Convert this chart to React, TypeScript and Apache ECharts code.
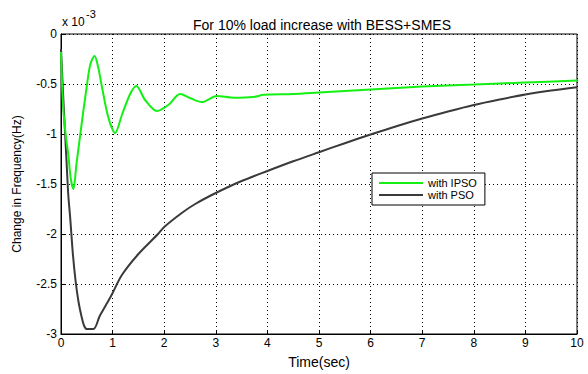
import React, { useEffect, useRef } from "react";
import * as echarts from "echarts";

const titleText = "For 10% load increase with BESS+SMES";
const xAxisName = "Time(sec)";
const yAxisName = "Change in Frequency(Hz)";
const seriesNames = ["with IPSO", "with PSO"];
const yTickLabels = ["-3", "-2.5", "-2", "-1.5", "-1", "-0.5", "0"];

// with IPSO (units of 1e-3 Hz)
const ipsoTime = [0, 0.04, 0.1, 0.14, 0.19, 0.24, 0.3, 0.4, 0.5, 0.57, 0.65, 0.72, 0.79, 0.92, 1.05, 1.18, 1.34, 1.46, 1.63, 1.86, 2.08, 2.31, 2.5, 2.73, 3.02, 3.35, 3.73, 3.93, 4.5, 5, 6, 7, 8, 9, 10];
const ipsoValues = [-0.18, -0.72, -1.05, -1.2, -1.45, -1.55, -1.3, -0.9, -0.52, -0.3, -0.22, -0.33, -0.52, -0.84, -0.99, -0.81, -0.6, -0.52, -0.66, -0.77, -0.71, -0.6, -0.64, -0.68, -0.62, -0.637, -0.63, -0.608, -0.6, -0.585, -0.555, -0.525, -0.505, -0.485, -0.465];

// with PSO (units of 1e-3 Hz)
const psoTime = [0, 0.05, 0.1, 0.14, 0.18, 0.23, 0.285, 0.34, 0.4, 0.45, 0.5, 0.63, 0.75, 0.85, 0.98, 1.18, 1.5, 1.88, 2.0, 2.34, 2.6, 3, 3.5, 4, 4.5, 5, 5.5, 6, 6.5, 7, 7.5, 8, 8.5, 9, 9.5, 10];
const psoValues = [-0.15, -0.7, -1.2, -1.6, -1.85, -2.2, -2.48, -2.68, -2.83, -2.92, -2.95, -2.95, -2.82, -2.73, -2.61, -2.41, -2.2, -2.0, -1.93, -1.79, -1.7, -1.59, -1.47, -1.37, -1.273, -1.182, -1.092, -1.005, -0.922, -0.845, -0.775, -0.71, -0.655, -0.605, -0.565, -0.532];

const FONT = "Liberation Sans, Arial, sans-serif";

export default function App() {
  const ref = useRef<HTMLDivElement>(null);
  useEffect(() => {
    if (!ref.current) return;
    const chart = echarts.init(ref.current, null, { renderer: "svg" });
    const zip = (t: number[], v: number[]) => t.map((x, i) => [x, v[i]]);
    chart.setOption({
      animation: false,
      backgroundColor: "#fff",
      textStyle: { fontFamily: FONT, color: "#000" },
      grid: {
        left: 61,
        right: 11,
        top: 34,
        bottom: 34,
        show: true,
        borderColor: "#000",
        borderWidth: 1,
        backgroundColor: "#fff",
      },
      title: {
        text: titleText,
        left: 317,
        top: 13,
        textAlign: "center",
        textStyle: { fontFamily: FONT, fontSize: 14, fontWeight: "normal", color: "#000" },
      },
      legend: {
        orient: "vertical",
        left: 372,
        top: 173,
        data: seriesNames,
        icon: "rect",
        itemWidth: 44,
        itemHeight: 2,
        itemGap: 1,
        padding: [4.5, 8, 4.5, 7],
        borderColor: "#000",
        borderWidth: 1,
        backgroundColor: "#fff",
        textStyle: { fontFamily: FONT, fontSize: 11, lineHeight: 11, color: "#000" },
      },
      xAxis: {
        type: "value",
        min: 0,
        max: 10,
        interval: 1,
        name: xAxisName,
        nameLocation: "middle",
        nameGap: 21,
        nameTextStyle: { fontFamily: FONT, fontSize: 14, color: "#000" },
        axisLine: { show: true, onZero: false, lineStyle: { color: "#000", width: 1 } },
        axisTick: { show: true, inside: true, length: 4, lineStyle: { color: "#000" } },
        axisLabel: { fontFamily: FONT, fontSize: 12, color: "#000", margin: 3 },
        splitLine: { show: true, lineStyle: { color: "#000", type: [1, 3], width: 1 } },
      },
      yAxis: {
        type: "value",
        min: -3,
        max: 0,
        interval: 0.5,
        name: yAxisName,
        nameLocation: "middle",
        nameGap: 38,
        nameTextStyle: { fontFamily: FONT, fontSize: 12, color: "#000" },
        axisLine: { show: true, lineStyle: { color: "#000", width: 1 } },
        axisTick: { show: true, inside: true, length: 4, lineStyle: { color: "#000" } },
        axisLabel: {
          fontFamily: FONT,
          fontSize: 12,
          color: "#000",
          margin: 4,
          formatter: (v: number) => {
            const idx = Math.round((v + 3) / 0.5);
            return yTickLabels[idx] ?? String(v);
          },
        },
        splitLine: { show: true, lineStyle: { color: "#000", type: [1, 3], width: 1 } },
      },
      graphic: [
        {
          type: "text",
          left: 62,
          top: 16,
          style: { text: "x 10", fontFamily: FONT, fontSize: 12, fill: "#000" },
        },
        {
          type: "text",
          left: 86,
          top: 8,
          style: { text: "-3", fontFamily: FONT, fontSize: 11, fill: "#000" },
        },
      ],
      series: [
        {
          name: seriesNames[0],
          type: "line",
          data: zip(ipsoTime, ipsoValues),
          showSymbol: false,
          symbol: "none",
          smooth: 0.3,
          lineStyle: { color: "#14f014", width: 2 },
          itemStyle: { color: "#14f014" },
          z: 3,
        },
        {
          name: seriesNames[1],
          type: "line",
          data: zip(psoTime, psoValues),
          showSymbol: false,
          symbol: "none",
          smooth: 0.3,
          lineStyle: { color: "#3a3a3a", width: 2 },
          itemStyle: { color: "#3a3a3a" },
          z: 2,
        },
      ],
    });
    return () => chart.dispose();
  }, []);
  return <div ref={ref} style={{ width: 588, height: 374, position: "absolute", left: 0, top: 0 }} />;
}
